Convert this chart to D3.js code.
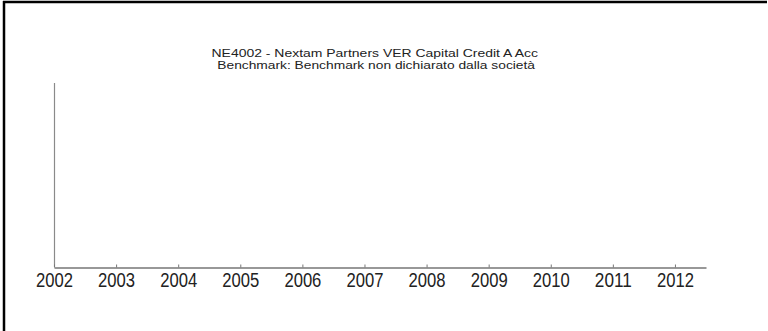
<!DOCTYPE html>
<html>
<head>
<meta charset="utf-8">
<script src="https://cdn.jsdelivr.net/npm/d3@7"></script>
<style>
html,body{margin:0;padding:0;background:#fff;}
svg{display:block;}
</style>
</head>
<body>
<svg id="chart" width="768" height="331"></svg>
<script>
const years = [2002, 2003, 2004, 2005, 2006, 2007, 2008, 2009, 2010, 2011, 2012];
const titleLines = [
  "NE4002 - Nextam Partners VER Capital Credit A Acc",
  "Benchmark: Benchmark non dichiarato dalla società"
];
const xDomain = [2002, 2012.5];

const svg = d3.select("#chart");

// frame
svg.append("line").attr("x1", 4).attr("x2", 4).attr("y1", 1).attr("y2", 331)
  .attr("stroke", "#000").attr("stroke-width", 2.5);
svg.append("line").attr("x1", 3).attr("x2", 767).attr("y1", 2).attr("y2", 2)
  .attr("stroke", "#000").attr("stroke-width", 2.5);

const x = d3.scaleLinear().domain(xDomain).range([54, 706]);
const y = d3.scaleLinear().domain([0, 1]).range([267, 83]);

// vertical axis line
svg.append("line")
  .attr("x1", x(xDomain[0]) + 0.5).attr("x2", x(xDomain[0]) + 0.5)
  .attr("y1", y(1)).attr("y2", y(0))
  .attr("stroke", "#8a8a8a").attr("stroke-width", 1.2);

// x axis
const gx = svg.append("g").attr("transform", `translate(0,${y(0) + 0.5})`);
gx.call(d3.axisBottom(x).tickValues(years).tickSizeInner(-3).tickSizeOuter(0).tickPadding(7).tickFormat(d3.format("d")));
gx.select(".domain").attr("stroke", "#333").attr("stroke-width", 1.2);
gx.selectAll(".tick line").attr("stroke", "#777");
gx.selectAll(".tick text")
  .attr("fill", "#222")
  .attr("font-family", "'Liberation Sans', Arial, sans-serif")
  .attr("font-size", 19.5)
  .attr("y", 0)
  .attr("dy", 0)
  .attr("transform", "translate(0,19.5)")
  .attr("textLength", 37)
  .attr("lengthAdjust", "spacingAndGlyphs");

// titles
const tx = [[211.5, 538, 56.5], [217.3, 535, 68.5]];
svg.selectAll("text.title").data(titleLines).enter().append("text")
  .attr("class", "title")
  .attr("x", (d, i) => tx[i][0])
  .attr("y", (d, i) => tx[i][2])
  .attr("textLength", (d, i) => tx[i][1] - tx[i][0])
  .attr("lengthAdjust", "spacingAndGlyphs")
  .attr("font-family", "'Liberation Sans', Arial, sans-serif")
  .attr("font-size", 11.5)
  .attr("fill", "#222")
  .text(d => d);
</script>
</body>
</html>
